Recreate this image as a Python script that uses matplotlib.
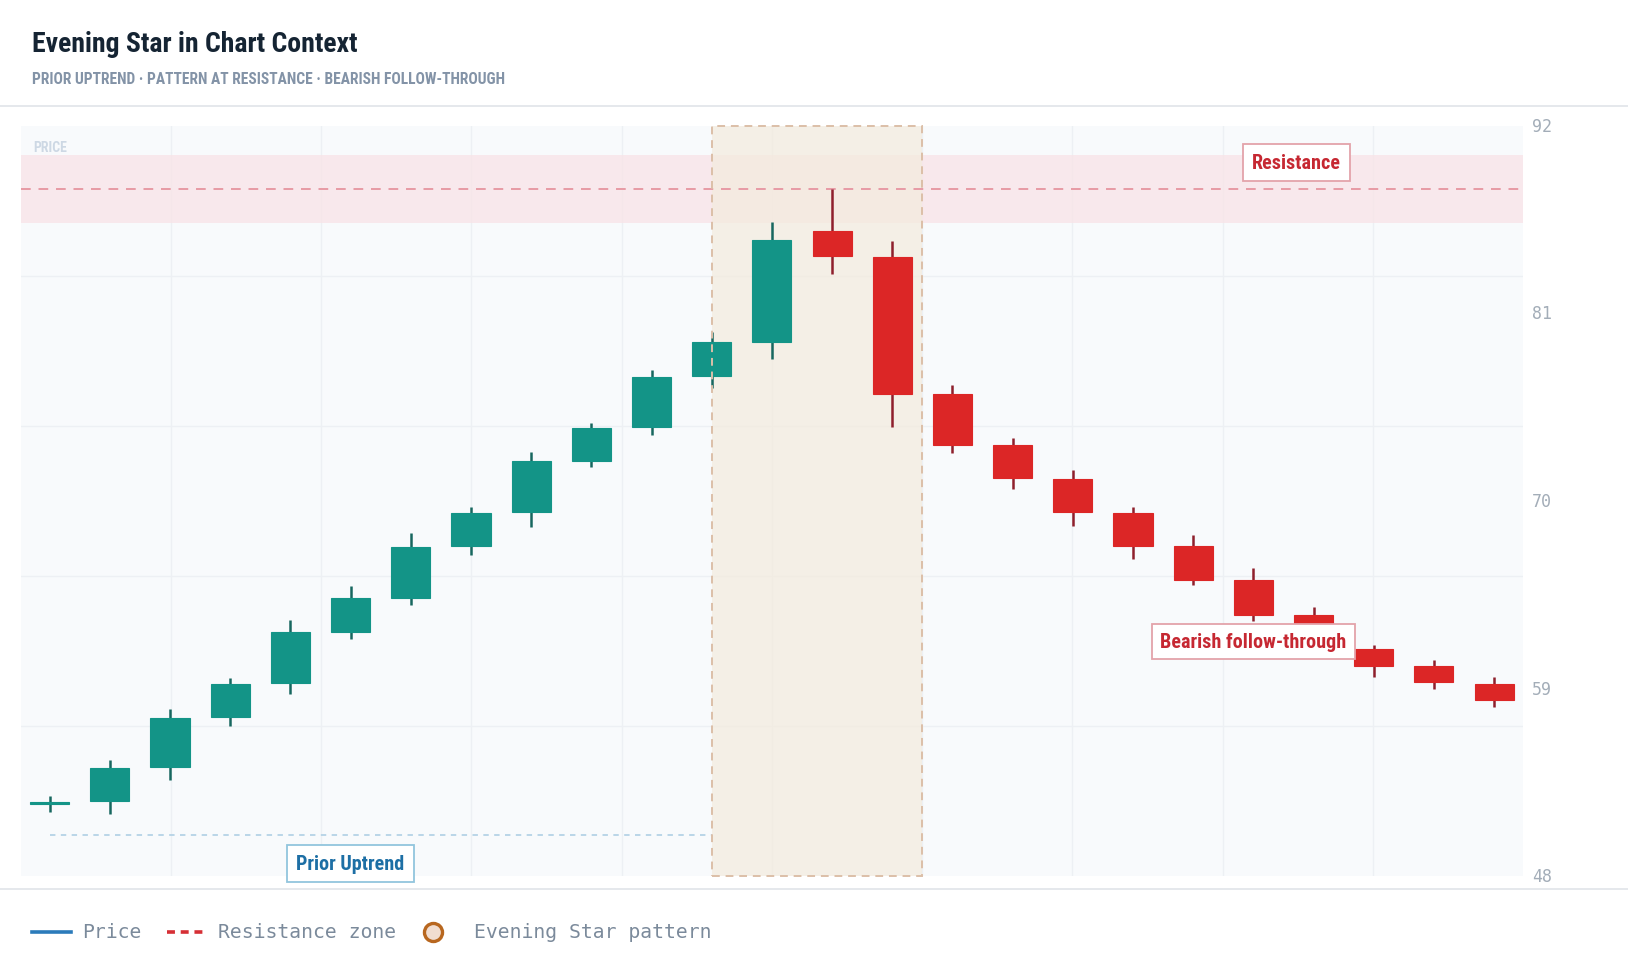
import matplotlib
matplotlib.use("Agg")
import matplotlib.pyplot as plt
from matplotlib.patches import Rectangle
from matplotlib.lines import Line2D
from matplotlib import font_manager as fm

# ---------------- data ----------------
opens  = [52.3, 52.4, 54.4, 57.35, 59.35, 62.35, 64.3, 67.35, 69.35, 72.35, 74.35, 77.35, 79.35,
          85.8, 84.3, 76.3, 73.3, 71.3, 69.3, 67.35, 65.35, 63.3, 61.3, 60.35, 59.3]
highs  = [52.7, 54.8, 57.8, 59.6, 63.0, 65.0, 68.1, 69.65, 72.9, 74.6, 77.7, 79.9, 86.35,
          88.3, 85.25, 76.8, 73.7, 71.8, 69.65, 68.0, 66.05, 63.8, 61.55, 60.7, 59.7]
lows   = [51.8, 51.65, 53.65, 56.8, 58.7, 61.9, 63.9, 66.85, 68.5, 72.0, 73.85, 76.6, 78.3,
          83.3, 74.35, 72.8, 70.7, 68.55, 66.6, 65.1, 62.95, 61.5, 59.7, 59.0, 57.95]
closes = [52.3, 54.35, 57.3, 59.3, 62.35, 64.3, 67.3, 69.3, 72.35, 74.3, 77.3, 79.3, 85.3,
          84.35, 76.3, 73.3, 71.35, 69.35, 67.35, 65.35, 63.35, 62.3, 60.35, 59.4, 58.35]

y_ticks = [92, 81, 70, 59, 48]
resistance_level = 88.3
resistance_low, resistance_high = 86.3, 90.3
pattern_start, pattern_end = 11.0, 14.5
uptrend_start, uptrend_end, uptrend_level = 0, 11, 50.4

title = "Evening Star in Chart Context"
subtitle = "PRIOR UPTREND · PATTERN AT RESISTANCE · BEARISH FOLLOW-THROUGH"
legend_labels = ["Price", "Resistance zone", "Evening Star pattern"]

# ---------------- fonts ----------------
def _w(x):
    if isinstance(x, (int, float)):
        return x
    return fm.weight_dict.get(str(x), 400)

fams = {}
for f in fm.fontManager.ttflist:
    nm = f.name
    if ("Condensed" in nm or "Narrow" in nm) and "Mono" not in nm:
        fams.setdefault(nm, []).append(_w(f.weight))
bold_fams = [k for k, v in fams.items() if max(v) >= 600]
pref = ["Liberation Sans Narrow", "Roboto Condensed", "Open Sans Condensed",
        "Noto Sans Condensed", "DejaVu Sans Condensed"]
chosen = None
for p in pref:
    if p in bold_fams:
        chosen = p
        break
if chosen is None and bold_fams:
    chosen = sorted(bold_fams)[0]
stretch = "normal"
if chosen is None:
    for f in fm.fontManager.ttflist:
        if f.name == "DejaVu Sans" and str(f.stretch) in ("condensed", "semi-condensed") \
                and _w(f.weight) >= 600:
            chosen, stretch = "DejaVu Sans", "condensed"
            break
if chosen is None and fams:
    chosen = sorted(fams)[0]
CONDENSED_OK = chosen is not None
COND = ([chosen] if chosen else ["Roboto"]) + ["DejaVu Sans"]
MONO = ["DejaVu Sans Mono"]

GREEN, GREEN_W = "#139487", "#17675f"
RED, RED_W = "#dc2626", "#8e1f2c"

W, H = 1628, 978
fig = plt.figure(figsize=(W / 100, H / 100), dpi=100)
fig.patch.set_facecolor("white")

L, R, T, B = 20.8, 1523.0, 126.7, 877.4
ax = fig.add_axes([L / W, 1 - B / H, (R - L) / W, (B - T) / H])
ax.set_facecolor("#f8fafc")
for s in ax.spines.values():
    s.set_visible(False)
n = len(opens)
ax.set_xlim(-0.48, n - 1 + 0.48)
ax.set_ylim(48, 92)
ax.set_xticks([])
ax.set_yticks([])

x0, x1 = ax.get_xlim()
for k in range(1, 10):
    ax.axvline(x0 + k * (x1 - x0) / 10, color="#edf0f4", lw=1.0, zorder=0)
for k in range(1, 5):
    ax.axhline(48 + k * 44 / 5, color="#edf0f4", lw=1.0, zorder=0)

ax.axhspan(resistance_low, resistance_high, color="#f9e3e7", alpha=0.75, zorder=1, lw=0)
ax.axhline(resistance_level, color="#e79aa5", lw=1.4, ls=(0, (5, 4)), zorder=2)

ax.add_patch(Rectangle((pattern_start, 48), pattern_end - pattern_start, 44,
                       facecolor="#f3ebdd", alpha=0.7, edgecolor="none", zorder=1.5))
ax.add_patch(Rectangle((pattern_start, 48), pattern_end - pattern_start, 44,
                       facecolor="none", edgecolor="#dcbfa8", lw=1.4, ls=(0, (4, 3)), zorder=6,
                       clip_on=False))

ax.plot([uptrend_start, uptrend_end], [uptrend_level, uptrend_level],
        color="#b5d3e6", lw=1.3, ls=(0, (3, 3)), zorder=2)

bw = 0.65
for i in range(n):
    o, h, l, c = opens[i], highs[i], lows[i], closes[i]
    up = c >= o
    col, wcol = (GREEN, GREEN_W) if up else (RED, RED_W)
    ax.plot([i, i], [l, h], color=wcol, lw=1.8, zorder=3, solid_capstyle="butt")
    lo, hi = min(o, c), max(o, c)
    hgt = max(hi - lo, 0.12)
    if hi - lo < 0.12:
        lo = (o + c) / 2 - 0.06
    ax.add_patch(Rectangle((i - bw / 2, lo), bw, hgt, facecolor=col, edgecolor=col,
                           lw=0.8, zorder=4))

if CONDENSED_OK:
    fs_title, fs_sub, fs_lab, fs_price = 20, 11.2, 14.5, 10
else:
    fs_title, fs_sub, fs_lab, fs_price = 18.5, 10.5, 13.5, 9

kw = dict(family=COND, fontstretch=stretch)

ax.text(20.72, 89.85, "Resistance", ha="center", va="center", fontsize=fs_lab,
        fontweight="bold", color="#c62832", zorder=8,
        bbox=dict(boxstyle="square,pad=0.45", fc="white", ec="#e3a3aa", lw=1.3), **kw)
ax.text(20.0, 61.75, "Bearish follow-through", ha="center", va="center", fontsize=fs_lab,
        fontweight="bold", color="#c62832", zorder=8,
        bbox=dict(boxstyle="square,pad=0.4", fc="white", ec="#e3a3aa", lw=1.3), **kw)
ax.text(5.0, 48.75, "Prior Uptrend", ha="center", va="center", fontsize=fs_lab,
        fontweight="bold", color="#1d6fa5", zorder=8,
        bbox=dict(boxstyle="square,pad=0.45", fc="white", ec="#92c5dd", lw=1.3), **kw)
ax.text(0.008, 0.972, "PRICE", transform=ax.transAxes, ha="left", va="center",
        fontsize=fs_price, fontweight="bold", color="#cdd8e4", zorder=8, **kw)

for k, v in enumerate(y_ticks):
    ax.text(1.006, 1 - k / (len(y_ticks) - 1), str(v), transform=ax.transAxes,
            ha="left", va="center", fontsize=12, color="#a3adb8", family=MONO)

fig.text(32 / W, 1 - 44 / H, title, ha="left", va="center", fontsize=fs_title,
         fontweight="bold", color="#152433", **kw)
fig.text(32 / W, 1 - 80 / H, subtitle, ha="left", va="center", fontsize=fs_sub,
         fontweight="bold", color="#8393a7", **kw)
fig.add_artist(Line2D([0, 1], [1 - 107 / H, 1 - 107 / H], color="#e3e6ea", lw=1.3,
                      transform=fig.transFigure))
fig.add_artist(Line2D([0, 1], [1 - 890 / H, 1 - 890 / H], color="#e3e6ea", lw=1.3,
                      transform=fig.transFigure))

ly = 1 - 933 / H
fs_leg = 14.2
fig.add_artist(Line2D([32 / W, 71 / W], [ly, ly], color="#2b7bba", lw=2.6,
                      transform=fig.transFigure))
fig.text(82 / W, ly, legend_labels[0], ha="left", va="center", fontsize=fs_leg,
         color="#7b8a9b", family=MONO)
fig.add_artist(Line2D([167 / W, 205 / W], [ly, ly], color="#d62f35", lw=2.6,
                      ls=(0, (2.2, 1.6)), transform=fig.transFigure))
fig.text(218 / W, ly, legend_labels[1], ha="left", va="center", fontsize=fs_leg,
         color="#7b8a9b", family=MONO)
fig.add_artist(Line2D([433 / W], [ly], marker="o", ms=13, mfc="#f1ddd0", mec="#b8671f",
                      mew=2.4, transform=fig.transFigure, ls="none"))
fig.text(474 / W, ly, legend_labels[2], ha="left", va="center", fontsize=fs_leg,
         color="#7b8a9b", family=MONO)

fig.savefig("out.png", dpi=100, facecolor="white")
